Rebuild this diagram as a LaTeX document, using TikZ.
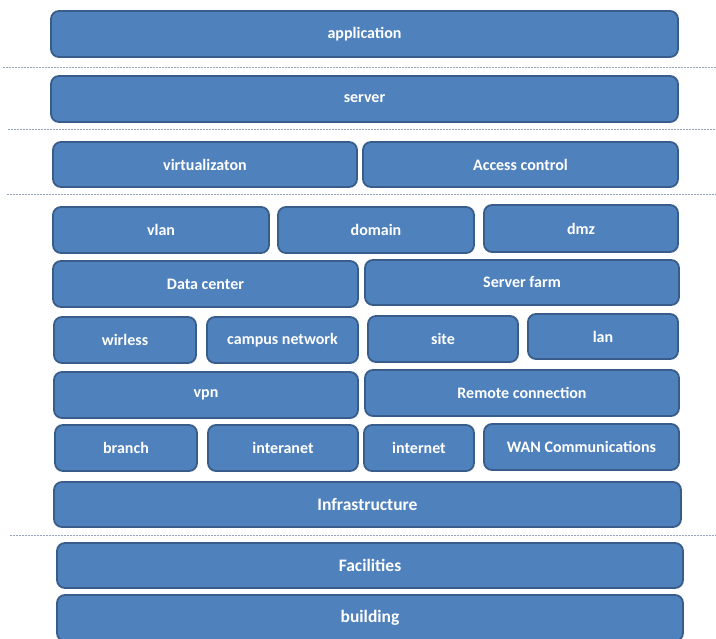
\documentclass[tikz,border=0pt]{standalone}
\usepackage{fontspec}
\setmainfont{Carlito}
\definecolor{boxfill}{HTML}{4F81BD}
\definecolor{boxedge}{HTML}{385D8A}
\definecolor{sepline}{RGB}{150,165,190}
\tikzset{
  layerbox/.style={draw=boxedge, line width=1.8pt, fill=boxfill, rounded corners=8pt,
    text=white, font=\fontsize{16}{18}\selectfont\bfseries, inner sep=0pt, outer sep=0pt},
  bigtext/.style={font=\fontsize{17.5}{20}\selectfont\bfseries},
  sepdash/.style={draw=sepline, line width=0.8pt, dash pattern=on 2pt off 1pt}
}
% \bx[extra]{name}{x1}{y1}{x2}{y2}{text}
\newcommand{\bx}[7][]{%
  \node[layerbox, #1, minimum width={(#5-#3)*1pt}, minimum height={(#6-#4)*1pt}]
    (#2) at ({(#3+#5)/2}, {-(#4+#6)/2}) {#7};}
\begin{document}
\begin{tikzpicture}[x=1pt, y=1pt]
\fill[white] (0,0) rectangle (716,-639);
\useasboundingbox (0,0) rectangle (716,-639);
% separators
\coordinate (s1a) at (3,-67);   \coordinate (s1b) at (716,-67);
\coordinate (s2a) at (8,-129);  \coordinate (s2b) at (716,-129);
\coordinate (s3a) at (7,-194);  \coordinate (s3b) at (716,-194);
\coordinate (s4a) at (10,-535); \coordinate (s4b) at (716,-535);
\draw[sepdash] (s1a) -- (s1b);
\draw[sepdash] (s2a) -- (s2b);
\draw[sepdash] (s3a) -- (s3b);
\draw[sepdash] (s4a) -- (s4b);
% boxes
\bx{app}{51}{11}{678}{57}{application}
\bx{server}{51}{76}{678}{122}{server}
\bx{virt}{53}{142}{357}{187}{virtualizaton}
\bx{access}{363}{142}{678}{187}{Access control}
\bx{vlan}{53}{207}{269}{253}{vlan}
\bx{domain}{278}{207}{474}{253}{domain}
\bx{dmz}{484}{205}{678}{252}{dmz}
\bx{dc}{53}{261}{358}{307}{Data center}
\bx{sf}{365}{260}{679}{305}{Server farm}
\bx{wirless}{54}{317}{196}{363}{wirless}
\bx{campus}{207}{317}{358}{363}{campus network}
\bx{site}{368}{316}{518}{362}{site}
\bx{lan}{528}{314}{678}{359}{lan}
\bx{vpn}{54}{372}{358}{418}{vpn}
\bx{remote}{365}{370}{679}{416}{Remote connection}
\bx{branch}{55}{425}{197}{471}{branch}
\bx{interanet}{208}{425}{358}{471}{interanet}
\bx{internet}{364}{425}{474}{471}{internet}
\bx{wan}{484}{424}{679}{470}{WAN Communications}
\bx[bigtext]{infra}{54}{482}{681}{527}{Infrastructure}
\bx[bigtext]{fac}{57}{543}{683}{588}{Facilities}
\bx[bigtext]{build}{57}{595}{683}{641}{building}
\end{tikzpicture}
\end{document}
